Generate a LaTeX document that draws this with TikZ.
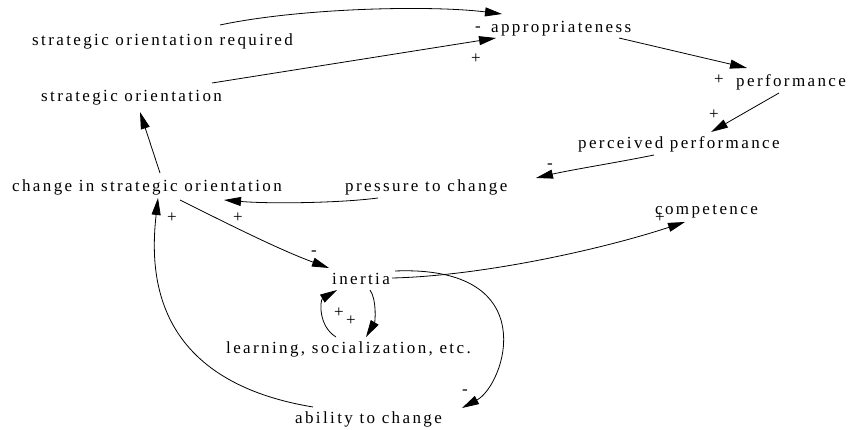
\documentclass[tikz,border=0pt]{standalone}
\usepackage{fontspec}
\setmainfont[LetterSpace=14]{Liberation Serif}
\usetikzlibrary{arrows.meta,calc}
\begin{document}
\begin{tikzpicture}[x=1pt,y=-1pt,
  lbl/.style={anchor=base west,inner sep=0pt,font=\fontsize{17}{20}\selectfont},
  sgn/.style={anchor=base,inner sep=0pt,font=\fontsize{17}{20}\selectfont},
  link/.style={line width=0.8pt,-{Triangle[length=17pt,width=9pt]}}]
\useasboundingbox (0,0) rectangle (854,430);
% variables
\node[lbl] (req) at (32,46) {strategic orientation required};
\node[lbl] (app) at (491,33) {appropriateness};
\node[lbl] (so) at (41,102) {strategic orientation};
\node[lbl] (perf) at (736,87) {performance};
\node[lbl] (pp) at (578,149) {perceived performance};
\node[lbl] (ptc) at (345,192) {pressure to change};
\node[lbl] (cso) at (12,192) {change in strategic orientation};
\node[lbl] (comp) at (655,215) {competence};
\node[lbl] (inertia) at (332,285) {inertia};
\node[lbl] (learn) at (226,353) {learning, socialization, etc.};
\node[lbl] (abil) at (295,423) {ability to change};
% links
\draw[link] ($(req.base west)+(188,-21)$) .. controls (300,8) and (430,5) .. ($(app.base west)+(11,-19)$);
\draw[link] ($(so.base west)+(171,-19)$) -- ($(app.base west)+(5,5)$);
\draw[link] ($(app.base west)+(128,5)$) -- ($(perf.base west)+(11,-19)$);
\draw[link] ($(perf.base west)+(43,6)$) -- ($(pp.base west)+(133,-17)$);
\draw[link] ($(pp.base west)+(76,6)$) .. controls (620,162) and (570,170) .. ($(ptc.base west)+(191,-14)$);
\draw[link] ($(ptc.base west)+(33,6)$) .. controls (340,203) and (270,204) .. ($(cso.base west)+(212,8)$);
\draw[link] ($(cso.base west)+(148,-19)$) -- ($(so.base west)+(99,10)$);
\draw[link] ($(cso.base west)+(168,8)$) .. controls (230,225) and (280,250) .. ($(inertia.base west)+(-3,-17)$);
\draw[link] ($(inertia.base west)+(60,-7)$) .. controls (480,276) and (600,250) .. ($(comp.base west)+(30,7)$);
\draw[link] ($(inertia.base west)+(63,-14)$) .. controls (545,265) and (505,385) .. ($(abil.base west)+(167,-15)$);
\draw[link] ($(inertia.base west)+(38,5)$) .. controls (377,300) and (375,322) .. ($(learn.base west)+(140,-16)$);
\draw[link] ($(learn.base west)+(110,-16)$) .. controls (318,326) and (320,300) .. ($(inertia.base west)+(5,5)$);
\draw[link] ($(abil.base west)+(18,-16)$) .. controls (150,380) and (150,270) .. ($(cso.base west)+(146,6)$);
% polarity signs
\node[sgn] (s1) at (478,32) {-};
\node[sgn] (s2) at (476,64) {+};
\node[sgn] (s3) at (719,85) {+};
\node[sgn] (s4) at (714,120) {+};
\node[sgn] (s5) at (550,169) {-};
\node[sgn] (s6) at (238,223) {+};
\node[sgn] (s7) at (172,223) {+};
\node[sgn] (s8) at (314,256) {-};
\node[sgn] (s9) at (660,223) {+};
\node[sgn] (s10) at (465,394) {-};
\node[sgn] (s11) at (339,317) {+};
\node[sgn] (s12) at (351,326) {+};
\end{tikzpicture}
\end{document}
